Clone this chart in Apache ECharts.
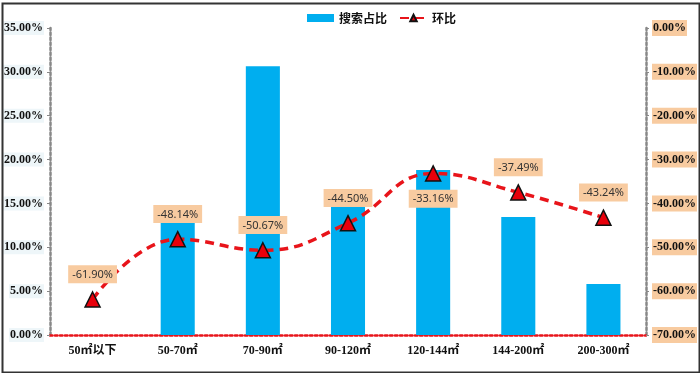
<!DOCTYPE html>
<html>
<head>
<meta charset="utf-8">
<script src="https://cdn.jsdelivr.net/npm/echarts@6/dist/echarts.min.js"></script>
<style>
html,body{margin:0;padding:0;background:#fff;}
#chart{width:700px;height:373px;}
</style>
</head>
<body>
<div id="chart"></div>
<script>
const categories = ['50㎡以下', '50-70㎡', '70-90㎡', '90-120㎡', '120-144㎡', '144-200㎡', '200-300㎡'];
const searchShare = [0, 14.74, 30.65, 15.93, 18.81, 13.45, 5.81];
const momChange = [-61.90, -48.14, -50.67, -44.50, -33.16, -37.49, -43.24];
const labelBelow = [false, false, false, false, true, false, false];

const chart = echarts.init(document.getElementById('chart'), null, {renderer: 'canvas'});
const axisFont = {fontFamily: '"Liberation Serif", "Noto Sans CJK SC", serif', fontWeight: 'bold', fontSize: 12, color: '#111'};

const option = {
  backgroundColor: '#fff',
  animation: false,
  graphic: [{
    type: 'rect', left: 0, top: 1, z: 100, silent: true,
    shape: {width: 697, height: 369},
    style: {fill: 'none', stroke: '#333', lineWidth: 2}
  }],
  legend: {
    top: 7, left: 302,
    itemGap: 12,
    textStyle: {fontFamily: '"Noto Sans CJK SC", sans-serif', fontWeight: 'bold', fontSize: 12, color: '#111'},
    data: [
      {name: '搜索占比', icon: 'rect', itemStyle: {color: '#00aeef'}},
      {name: '环比'}
    ],
    itemWidth: 27, itemHeight: 8
  },
  grid: {left: 45, right: 52, top: 28, bottom: 38, containLabel: false},
  xAxis: {
    type: 'category',
    data: categories,
    axisLine: {show: true, lineStyle: {color: '#e8141a', type: 'dotted', width: 2.5}},
    axisTick: {show: false},
    axisLabel: Object.assign({margin: 10}, axisFont)
  },
  yAxis: [{
    type: 'value', min: 0, max: 35, interval: 5,
    axisLine: {show: true, lineStyle: {color: '#888', type: 'dotted', width: 2.5}},
    axisTick: {show: true, length: 3, lineStyle: {color: '#888'}},
    splitLine: {show: false},
    axisLabel: Object.assign({
      formatter: v => v.toFixed(2) + '%',
      backgroundColor: '#eef6f9', padding: [1, 1], margin: 6
    }, axisFont)
  }, {
    type: 'value', min: -70, max: 0, interval: 10,
    position: 'right',
    axisLine: {show: true, lineStyle: {color: '#888', type: 'dotted', width: 2.5}},
    axisTick: {show: true, length: 3, lineStyle: {color: '#888'}},
    splitLine: {show: false},
    axisLabel: Object.assign({
      formatter: v => v.toFixed(2) + '%',
      backgroundColor: '#f8cba0', padding: [2, 1], margin: 6
    }, axisFont)
  }],
  series: [{
    name: '搜索占比',
    type: 'bar',
    data: searchShare,
    barWidth: '40%',
    itemStyle: {color: '#00aeef'},
    z: 2
  }, {
    name: '环比',
    type: 'line',
    yAxisIndex: 1,
    smooth: 0.45,
    data: momChange.map((v, i) => ({
      value: v,
      label: {position: labelBelow[i] ? 'bottom' : 'top'}
    })),
    lineStyle: {color: '#e8141a', width: 3.5, type: [9, 6]},
    symbol: 'triangle',
    symbolSize: 15,
    itemStyle: {color: '#e8000b', borderColor: '#111', borderWidth: 1.5},
    label: {
      show: true,
      formatter: p => p.value.toFixed(2) + '%',
      backgroundColor: '#f8cba0',
      padding: [4, 4, 3, 4],
      distance: 8,
      color: '#333',
      fontFamily: '"Noto Sans", "Open Sans", sans-serif',
      fontSize: 11
    },
    z: 5
  }]
};
chart.setOption(option);
</script>
</body>
</html>
